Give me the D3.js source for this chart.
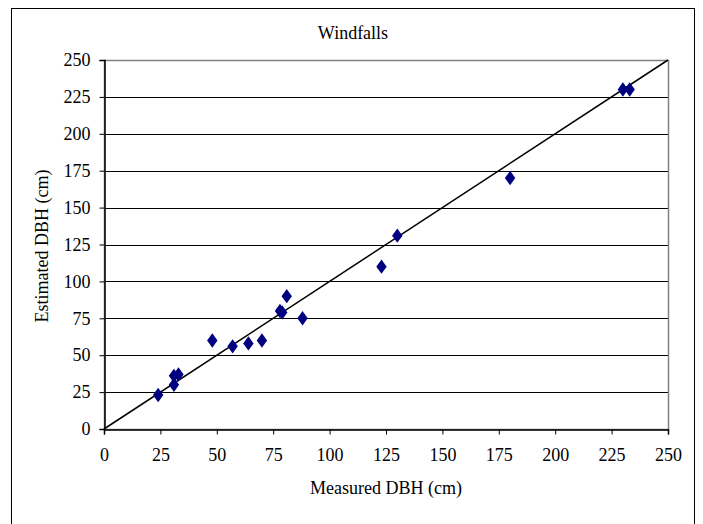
<!DOCTYPE html>
<html><head><meta charset="utf-8">
<script src="https://cdn.jsdelivr.net/npm/d3@7"></script>
<style>body{margin:0;background:#fff}svg{display:block}svg text{font-family:"Liberation Serif","Times New Roman",Times,serif !important}</style>
</head><body>
<script>
const title = "Windfalls";
const xLabel = "Measured DBH (cm)";
const yLabel = "Estimated DBH (cm)";
const measured  = [24, 31, 31, 33, 48, 57, 64, 70, 78, 79, 81, 88, 123, 130, 180, 230, 233];
const estimated = [23, 30, 36, 37, 60, 56, 58, 60, 80, 79, 90, 75, 110, 131, 170, 230, 230];
const tickValues = [0, 25, 50, 75, 100, 125, 150, 175, 200, 225, 250];
const lineX = [0, 250];
const lineY = [0, 250];

const W = 703, H = 524;
const svg = d3.select("body").append("svg").attr("width", W).attr("height", H);
svg.append("rect").attr("x", 11.5).attr("y", 8.5).attr("width", 683).attr("height", 530)
  .attr("fill", "#fff").attr("stroke", "#000").attr("stroke-width", 1);

const L = 104, R = 668, T = 60, B = 429;
const x = d3.scaleLinear().domain([0, 250]).range([L, R]);
const y = d3.scaleLinear().domain([0, 250]).range([B, T]);
const font = "'Liberation Serif', 'Times New Roman', serif";
const fs = 18;

// gridlines
svg.append("g").selectAll("line").data(tickValues.slice(1)).join("line")
  .attr("x1", L).attr("x2", R).attr("y1", d => Math.round(y(d)) + 0.5).attr("y2", d => Math.round(y(d)) + 0.5)
  .attr("stroke", "#000").attr("stroke-width", 1);
// plot border
svg.append("rect").attr("x", L + 0.5).attr("y", T + 0.5).attr("width", R - L).attr("height", B - T)
  .attr("fill", "none").attr("stroke", "#808080").attr("stroke-width", 1.5);

// axes
const yAxis = d3.axisLeft(y).tickValues(tickValues).tickSize(5).tickPadding(9);
const gy = svg.append("g").attr("transform", `translate(${L + 0.5},0)`).call(yAxis);
const xAxis = d3.axisBottom(x).tickValues(tickValues).tickSize(5).tickPadding(10);
const gx = svg.append("g").attr("transform", `translate(0,${B + 0.5})`).call(xAxis);
[gx, gy].forEach(g => {
  g.attr("font-family", font);
  g.select(".domain").attr("stroke", "#000").attr("stroke-width", 1.5);
  g.selectAll(".tick line").attr("stroke", "#000");
  g.selectAll("text").attr("font-family", font).attr("font-size", fs).attr("fill", "#000");
});
gx.selectAll("text").attr("dy", null).attr("y", 31.5);

// diagonal line
svg.append("line").attr("x1", x(lineX[0])).attr("y1", y(lineY[0])).attr("x2", x(lineX[1])).attr("y2", y(lineY[1]))
  .attr("stroke", "#000").attr("stroke-width", 1.5);

// points
const sym = d3.symbol().type(d3.symbolDiamond).size(60);
svg.append("g").selectAll("path").data(measured.map((m, i) => [m, estimated[i]])).join("path")
  .attr("d", sym).attr("transform", d => `translate(${x(d[0])},${y(d[1])}) scale(1.25,1)`)
  .attr("fill", "#000080");

svg.append("text").attr("x", 353).attr("y", 39).attr("text-anchor", "middle")
  .attr("font-family", font).attr("font-size", fs).text(title);
svg.append("text").attr("x", 386).attr("y", 494).attr("text-anchor", "middle")
  .attr("font-family", font).attr("font-size", fs).text(xLabel);
svg.append("text").attr("transform", "translate(48,246) rotate(-90)").attr("text-anchor", "middle")
  .attr("font-family", font).attr("font-size", fs).text(yLabel);
</script>
</body></html>
